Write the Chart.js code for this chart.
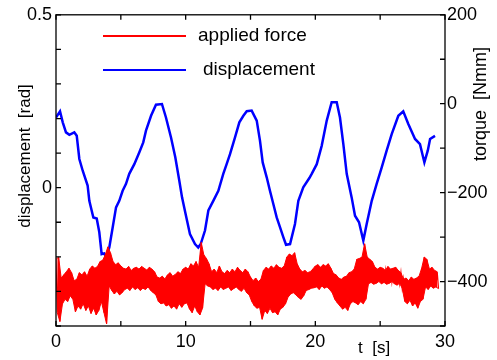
<!DOCTYPE html>
<html>
<head>
<meta charset="utf-8">
<script src="https://cdn.jsdelivr.net/npm/chart.js@4.4.1/dist/chart.umd.min.js"></script>
<style>
  body { margin: 0; background: #fff; }
  canvas { display: block; }
</style>
</head>
<body>
<canvas id="chart" width="497" height="360"></canvas>
<script>
// displacement (left axis, rad)
const dispTime = [0, 0.31, 0.52, 0.77, 1.03, 1.41, 1.60, 1.80, 2.06, 2.44, 2.57, 2.88, 3.14, 3.34, 3.52, 3.72, 3.86, 4.11, 4.37, 4.63,
  4.88, 5.14, 5.40, 5.65, 6.04, 6.42, 6.73, 6.94, 7.33, 7.71, 8.17, 8.48, 8.87, 9.20, 9.51, 9.72, 9.97, 10.33, 10.72, 10.97,
  11.16, 11.49, 11.75, 12.13, 12.52, 12.90, 13.16, 13.42, 13.80, 14.14, 14.45, 14.71, 15.09, 15.48, 15.73, 15.94, 16.25, 16.50, 16.76, 17.02,
  17.28, 17.53, 17.74, 18.05, 18.43, 18.69, 19.07, 19.54, 19.72, 20.11, 20.49, 20.88, 21.26, 21.65, 21.90, 22.16, 22.42, 22.80, 23.06, 23.37,
  23.70, 23.96, 24.35, 24.73, 25.12, 25.50, 25.89, 26.40, 26.78, 27.17, 27.69, 28.07, 28.41, 28.67, 28.85, 29.23];
const dispRad = [0.203, 0.221, 0.189, 0.160, 0.153, 0.160, 0.150, 0.083, 0.049, 0.006, -0.038, -0.086, -0.089, -0.129, -0.192, -0.190, -0.201, -0.173, -0.115, -0.057,
  -0.038, -0.009, 0.011, 0.040, 0.068, 0.102, 0.131, 0.165, 0.208, 0.240, 0.242, 0.203, 0.145, 0.088, 0.020, -0.028, -0.072, -0.134, -0.163, -0.173,
  -0.163, -0.124, -0.066, -0.038, -0.009, 0.040, 0.068, 0.097, 0.145, 0.189, 0.208, 0.221, 0.223, 0.194, 0.136, 0.073, 0.030, -0.009, -0.047, -0.086,
  -0.115, -0.143, -0.165, -0.163, -0.105, -0.038, 0.001, 0.028, 0.040, 0.068, 0.121, 0.194, 0.247, 0.247, 0.203, 0.126, 0.040, -0.028, -0.081, -0.100,
  -0.153, -0.105, -0.038, 0.011, 0.059, 0.107, 0.155, 0.208, 0.221, 0.184, 0.141, 0.126, 0.073, 0.107, 0.141, 0.150];

// applied force (right axis, Nmm): upper and lower edge of the noisy red band, one pair every 0.2 s
const forceDt = 0.2;
const forceHigh = [
  -350, -345, -392, -385, -378, -370, -380, -398, -395, -380,
  -385, -378, -388, -372, -365, -370, -366, -355, -352, -340,
  -322, -335, -355, -362, -358, -365, -370, -372, -366, -375,
  -370, -368, -372, -366, -370, -374, -368, -372, -378, -390,
  -392, -388, -394, -385, -380, -388, -384, -378, -382, -372,
  -368, -372, -360, -365, -355, -368, -312, -340, -348, -360,
  -378, -372, -380, -365, -378, -382, -375, -380, -372, -378,
  -368, -375, -380, -372, -378, -390, -398, -392, -400, -395,
  -375, -368, -372, -365, -370, -362, -368, -370, -365, -345,
  -338, -342, -335, -360, -372, -378, -375, -380, -378, -372,
  -365, -362, -368, -362, -365, -360, -370, -382, -385, -392,
  -395, -390, -388, -380, -378, -372, -350, -348, -345, -315,
  -345, -350, -355, -368, -372, -368, -370, -375, -366, -372,
  -370, -368, -375, -380, -395, -392, -398, -390, -395, -392,
  -388, -370, -345, -350, -372, -368, -375, -378];
const forceLow = [
  -470, -490, -450, -440, -445, -432, -440, -468, -455, -462,
  -450, -465, -455, -472, -460, -475, -465, -445, -470, -495,
  -410, -420, -428, -422, -430, -425, -418, -415, -420, -412,
  -418, -414, -420, -415, -418, -412, -420, -425, -430, -445,
  -450, -448, -455, -452, -460, -455, -462, -450, -458, -450,
  -448, -462, -470, -455, -468, -475, -460, -405, -410, -412,
  -418, -415, -420, -412, -418, -415, -412, -420, -416, -412,
  -418, -422, -415, -425, -430, -445, -455, -460, -458, -485,
  -465, -472, -460, -470, -468, -475, -462, -458, -450, -435,
  -428, -425, -430, -436, -440, -432, -420, -418, -415, -414,
  -412, -418, -410, -415, -412, -418, -425, -440, -448, -455,
  -462, -458, -465, -450, -445, -448, -452, -445, -450, -440,
  -405, -402, -406, -404, -400, -405, -402, -406, -404, -400,
  -405, -408, -404, -415, -445, -450, -442, -455, -448, -460,
  -445, -440, -412, -418, -410, -415, -412, -416];

const FONT = "'Liberation Sans', Arial, Helvetica, sans-serif";

let dispPts = dispTime.map((t, i) => ({ x: t, y: dispRad[i] }));
let highPts = forceHigh.map((v, i) => ({ x: i * forceDt, y: v }));
let lowPts = forceLow.map((v, i) => ({ x: i * forceDt + forceDt / 2, y: v }));
let forcePts = [];
highPts.forEach((p, i) => {
    forcePts.push(p);
    forcePts.push(lowPts[i]);
});

function near(a, b) {
    return Math.abs(a - b) < 1e-6;
}

// box, inward ticks, legend and axis titles
const decor = {
    id: "decor",
    afterDraw(chart) {
        const ctx = chart.ctx;
        const a = chart.chartArea;
        const s = chart.scales;
        const len = 5;

        ctx.save();
        ctx.strokeStyle = "#000";
        ctx.lineWidth = 1.3;
        ctx.strokeRect(a.left, a.top, a.right - a.left, a.bottom - a.top);

        ctx.beginPath();
        s.x.ticks.forEach(t => {
            let px = s.x.getPixelForValue(t.value);
            ctx.moveTo(px, a.bottom); ctx.lineTo(px, a.bottom - len);
            ctx.moveTo(px, a.top); ctx.lineTo(px, a.top + len);
        });
        s.y.ticks.forEach(t => {
            let py = s.y.getPixelForValue(t.value);
            ctx.moveTo(a.left, py); ctx.lineTo(a.left + len, py);
        });
        s.y1.ticks.forEach(t => {
            let py = s.y1.getPixelForValue(t.value);
            ctx.moveTo(a.right, py); ctx.lineTo(a.right - len, py);
        });
        ctx.stroke();

        // legend
        ctx.lineWidth = 2;
        ctx.strokeStyle = "#ff0000";
        ctx.beginPath(); ctx.moveTo(103, 36); ctx.lineTo(186, 36); ctx.stroke();
        ctx.strokeStyle = "#0000ff";
        ctx.beginPath(); ctx.moveTo(103, 70); ctx.lineTo(186, 70); ctx.stroke();

        ctx.fillStyle = "#000";
        ctx.font = "19px " + FONT;
        ctx.textAlign = "left";
        ctx.textBaseline = "middle";
        ctx.fillText("applied force", 198, 36);
        ctx.fillText("displacement", 203, 70);

        ctx.font = "17px " + FONT;
        ctx.fillText("t  [s]", 358, 348);

        ctx.textAlign = "center";
        ctx.save();
        ctx.translate(25, 156);
        ctx.rotate(-Math.PI / 2);
        ctx.fillText("displacement  [rad]", 0, 0);
        ctx.restore();

        ctx.font = "18px " + FONT;
        ctx.save();
        ctx.translate(481, 104);
        ctx.rotate(-Math.PI / 2);
        ctx.fillText("torque  [Nmm]", 0, 0);
        ctx.restore();

        ctx.restore();
    }
};

const tickFont = { family: FONT, size: 18 };

new Chart(document.getElementById("chart"), {
    type: "line",
    data: {
        datasets: [{
            label: "applied force",
            data: forcePts,
            yAxisID: "y1",
            borderColor: "#ff0000",
            borderWidth: 1.2,
            pointRadius: 0,
            fill: false,
            order: 0
        }, {
            label: "force upper edge",
            data: highPts,
            yAxisID: "y1",
            borderColor: "#ff0000",
            borderWidth: 1,
            pointRadius: 0,
            fill: false,
            order: 0
        }, {
            label: "force lower edge",
            data: lowPts,
            yAxisID: "y1",
            borderColor: "#ff0000",
            backgroundColor: "#ff0000",
            borderWidth: 1,
            pointRadius: 0,
            fill: "-1",
            order: 0
        }, {
            label: "displacement",
            data: dispPts,
            yAxisID: "y",
            borderColor: "#0000ff",
            borderWidth: 2.5,
            pointRadius: 0,
            fill: false,
            order: 1
        }]
    },
    options: {
        responsive: false,
        animation: false,
        layout: { padding: { top: 14 } },
        plugins: {
            legend: { display: false },
            tooltip: { enabled: false }
        },
        scales: {
            x: {
                type: "linear",
                min: 0,
                max: 30,
                grid: { display: false, drawTicks: false },
                border: { display: false },
                ticks: {
                    stepSize: 5,
                    autoSkip: false,
                    maxRotation: 0,
                    padding: 5,
                    color: "#000",
                    font: tickFont,
                    callback: v => (v % 10 === 0 ? String(v) : "")
                },
                afterFit(sc) { sc.height = 34; }
            },
            y: {
                position: "left",
                min: -0.4,
                max: 0.5,
                grid: { display: false, drawTicks: false },
                border: { display: false },
                ticks: {
                    stepSize: 0.1,
                    autoSkip: false,
                    padding: 4,
                    color: "#000",
                    font: tickFont,
                    callback: v => (near(v, 0.5) ? "0.5" : near(v, 0) ? "0" : "")
                },
                afterFit(sc) { sc.width = 56; }
            },
            y1: {
                position: "right",
                min: -500,
                max: 200,
                grid: { display: false, drawTicks: false },
                border: { display: false },
                ticks: {
                    stepSize: 100,
                    autoSkip: false,
                    padding: 2,
                    color: "#000",
                    font: tickFont,
                    callback: v => (v % 200 === 0 ? (v < 0 ? "\u2212" + (-v) : String(v)) : "")
                },
                afterFit(sc) { sc.width = 52; }
            }
        }
    },
    plugins: [decor]
});
</script>
</body>
</html>
